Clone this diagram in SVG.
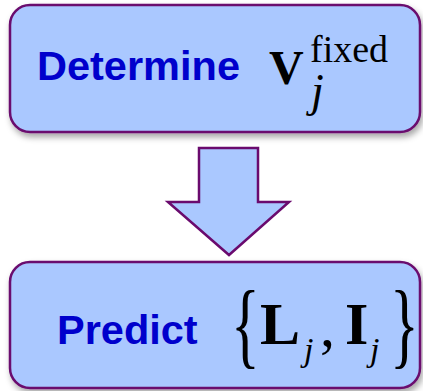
<svg xmlns="http://www.w3.org/2000/svg" width="423" height="391" viewBox="0 0 423 391">
  <defs>
    <filter id="shadow" x="-10%" y="-10%" width="120%" height="130%">
      <feDropShadow dx="2" dy="4" stdDeviation="3" flood-color="#000" flood-opacity="0.35"/>
    </filter>
  </defs>
  <style>
    .box { fill: #AAC8FF; stroke: #6A0A6E; stroke-width: 2.5; }
    .label { font-family: "Liberation Sans", Arial, sans-serif; font-weight: bold; font-size: 41.5px; fill: #0000CC; }
    .math { font-family: "Liberation Serif", "Times New Roman", serif; fill: #000; }
    .bold { font-weight: bold; }
    .ital { font-style: italic; }
  </style>
  <rect width="423" height="391" fill="#fff"/>
  <g id="connectors">
    <polygon class="box" points="199,148 258,148 258,202 289,202 229,255 168,202 199,202"/>
  </g>
  <g id="node-determine">
    <rect class="box" x="10" y="5" width="410" height="127" rx="20" filter="url(#shadow)"/>
    <text class="label" x="37" y="80">Determine</text>
    <text class="math bold" x="269" y="84" font-size="48">V</text>
    <text class="math" x="310" y="62" font-size="38" textLength="78" lengthAdjust="spacingAndGlyphs">fixed</text>
    <text class="math ital" x="311" y="106" font-size="46">j</text>
  </g>
  <g id="node-predict">
    <rect class="box" x="10" y="262" width="410" height="126" rx="20" filter="url(#shadow)"/>
    <text class="label" x="57" y="344">Predict</text>
    <text class="math" font-size="60" transform="translate(231,356) scale(1,1.58)">{</text>
    <text class="math bold" x="260" y="344" font-size="60">L</text>
    <text class="math ital" x="304" y="361" font-size="34">j</text>
    <text class="math" x="320" y="346" font-size="60">,</text>
    <text class="math bold" x="345" y="344" font-size="60">I</text>
    <text class="math ital" x="370" y="361" font-size="34">j</text>
    <text class="math" font-size="60" transform="translate(390,356) scale(1,1.58)">}</text>
  </g>
</svg>
